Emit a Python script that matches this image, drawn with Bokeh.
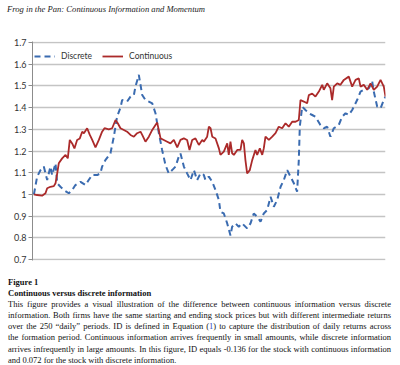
from bokeh.plotting import figure
from bokeh.models import (Range1d, FixedTicker, CustomJSTickFormatter, Legend,
                          LegendItem, Div)
from bokeh.layouts import column
from bokeh.embed import file_html
from bokeh.resources import INLINE

# ---------------- data ----------------
series_names = ["Discrete", "Continuous"]

cont_x = [1, 3.3, 6.8, 9.2, 10.4, 12.7, 15.1, 16.3, 17.5, 18.6, 21, 23.4, 25, 26.4,
          28.1, 29.7, 31.6, 33.5, 35.2, 36.4, 38.7, 40.6, 42.3, 44.6, 47, 49.3, 51,
          54, 56.4, 58.8, 60.4, 62.3, 64.7, 67, 69.4, 71.8, 74.1, 76.5, 77.7, 80,
          82.4, 84.8, 87.1, 88.3, 90.7, 93, 95.4, 97.7, 100.1, 102.5, 104.8, 107.2,
          109.5, 111.2, 113.1, 115.4, 117.8, 120.2, 121.3, 123.7, 124.9, 126.1,
          127.3, 129.6, 132, 133.1, 135.5, 137.9, 139, 140.2, 141.4, 142.6, 145,
          147.3, 148.5, 149.7, 150.8, 152, 153.9, 155.6, 157.9, 159.1, 161, 162.7,
          163.8, 165, 167.4, 169.8, 172.1, 174.4, 176.8, 179.2, 181.5, 183.9, 186.3,
          188.6, 189.8, 192.1, 194.5, 195.7, 198.1, 200.4, 202.8, 205.2, 206.3,
          208.7, 211, 212.2, 213.4, 215.8, 218.1, 220.5, 224, 226.4, 228.8, 231.1,
          232.3, 234.6, 237, 239.4, 241.7, 244.1, 246.5, 248.8, 250]
cont_y = [1.0, 0.997, 0.994, 1.005, 1.028, 1.035, 1.038, 1.051, 1.097, 1.143, 1.166,
          1.182, 1.166, 1.251, 1.235, 1.212, 1.251, 1.258, 1.289, 1.282, 1.305, 1.274,
          1.251, 1.217, 1.251, 1.289, 1.305, 1.3, 1.305, 1.343, 1.328, 1.305, 1.297,
          1.289, 1.274, 1.266, 1.282, 1.289, 1.274, 1.243, 1.266, 1.297, 1.32, 1.331,
          1.258, 1.251, 1.243, 1.235, 1.251, 1.217, 1.251, 1.258, 1.251, 1.205, 1.251,
          1.258, 1.228, 1.251, 1.243, 1.266, 1.312, 1.305, 1.266, 1.258, 1.212, 1.182,
          1.197, 1.235, 1.182, 1.243, 1.189, 1.182, 1.205, 1.205, 1.251, 1.235, 1.158,
          1.097, 1.112, 1.158, 1.205, 1.182, 1.212, 1.182, 1.212, 1.266, 1.251, 1.266,
          1.282, 1.312, 1.305, 1.328, 1.312, 1.335, 1.335, 1.343, 1.435, 1.428, 1.42,
          1.458, 1.465, 1.451, 1.474, 1.505, 1.482, 1.512, 1.489, 1.435, 1.497, 1.512,
          1.505, 1.528, 1.543, 1.497, 1.528, 1.535, 1.497, 1.505, 1.482, 1.512, 1.482,
          1.497, 1.528, 1.497, 1.451]

disc_x = [1, 3.3, 5.7, 8, 10.4, 12.7, 13.9, 16.3, 17.5, 19.8, 22.2, 25.7, 28.1, 30.4,
          34, 37.5, 39.8, 42.2, 45.8, 48.1, 49.3, 51.6, 55.2, 57.6, 59.9, 62.3, 63.5,
          67, 69.4, 71.8, 72.9, 75.3, 77.7, 80, 82.4, 84.8, 87.1, 89.5, 91.8, 94.2,
          96.5, 98.9, 101.3, 103.6, 104.8, 107.2, 109.5, 111.9, 114.3, 116.6, 119,
          121.3, 122.5, 124.9, 127.3, 129.6, 132, 133.1, 135.5, 137.9, 140.2, 141.4,
          143.8, 146.1, 148.5, 152, 154.4, 156.7, 159.1, 161.5, 163.8, 166.2, 168.6,
          170.9, 173.3, 175.7, 178, 180.4, 182.7, 185.1, 187.4, 188.6, 189.3, 191,
          193.3, 195.7, 198.1, 200.4, 203.9, 206.3, 208.7, 211, 213.4, 216.9, 219.3,
          221.7, 224, 226.4, 229.9, 232.3, 234.6, 238.2, 240.6, 241.7, 244.1, 246.5,
          248.8, 250]
disc_y = [1.0, 1.082, 1.112, 1.128, 1.066, 1.128, 1.089, 1.143, 1.051, 1.035, 1.02,
          1.005, 1.02, 1.043, 1.058, 1.043, 1.066, 1.089, 1.089, 1.097, 1.128, 1.158,
          1.189, 1.266, 1.358, 1.40, 1.435, 1.428, 1.451, 1.458, 1.497, 1.551, 1.458,
          1.435, 1.428, 1.42, 1.374, 1.282, 1.205, 1.135, 1.097, 1.112, 1.128, 1.174,
          1.189, 1.128, 1.097, 1.066, 1.112, 1.066, 1.097, 1.09, 1.066, 1.082, 1.058,
          1.02, 0.974, 0.92, 0.912, 0.866, 0.81, 0.851, 0.866, 0.851, 0.866, 0.843,
          0.866, 0.912, 0.897, 0.874, 0.912, 0.928, 0.989, 0.943, 0.974, 1.035, 1.066,
          1.112, 1.082, 1.051, 1.012, 1.158, 1.312, 1.405, 1.389, 1.374, 1.366, 1.358,
          1.32, 1.305, 1.312, 1.266, 1.305, 1.32, 1.358, 1.374, 1.366, 1.389, 1.435,
          1.474, 1.482, 1.489, 1.52, 1.474, 1.405, 1.397, 1.435, 1.451]

y_ticks = [0.7, 0.8, 0.9, 1.0, 1.1, 1.2, 1.3, 1.4, 1.5, 1.6, 1.7]

page_title = "Frog in the Pan: Continuous Information and Momentum"
fig_label = "Figure 1"
fig_heading = "Continuous versus discrete information"
caption_lines = [
    "This figure provides a visual illustration of the difference between continuous information versus discrete",
    "information. Both firms have the same starting and ending stock prices but with different intermediate returns",
    "over the 250 \u201cdaily\u201d periods. ID is defined in Equation (<span style=\"color:#2a3fc0\">1</span>) to capture the distribution of daily returns across",
    "the formation period. Continuous information arrives frequently in small amounts, while discrete information",
    "arrives infrequently in large amounts. In this figure, ID equals -0.136 for the stock with continuous information",
]
caption_last = "and 0.072 for the stock with discrete information."

BLUE = "#3a6bb0"
RED = "#ab2a2a"

# ---------------- figure ----------------
p = figure(width=400, height=257, output_backend="svg", toolbar_location=None,
           x_range=Range1d(0, 250), y_range=Range1d(0.695, 1.705),
           min_border_left=32, min_border_right=15, min_border_top=21,
           min_border_bottom=17)
p.outline_line_color = None
p.background_fill_color = "white"
p.border_fill_color = "white"

p.xaxis.visible = False
p.xgrid.visible = False

p.yaxis.ticker = FixedTicker(ticks=y_ticks)
p.yaxis.formatter = CustomJSTickFormatter(code="return (Math.round(tick*10)/10).toString();")
p.yaxis.axis_line_color = "#8c8c8c"
p.yaxis.major_tick_line_color = "#8c8c8c"
p.yaxis.major_tick_out = 4
p.yaxis.major_tick_in = 0
p.yaxis.minor_tick_out = 0
p.yaxis.minor_tick_in = 0
p.yaxis.major_label_standoff = 2
p.yaxis.major_label_text_font = "Lato"
p.yaxis.major_label_text_font_size = "9px"
p.yaxis.major_label_text_color = "#333333"

p.ygrid.grid_line_color = "#c4c4c4"
p.ygrid.grid_line_width = 1.5

r_d = p.line(disc_x, disc_y, line_color=BLUE, line_width=2, line_dash="6 4")
r_c = p.line(cont_x, cont_y, line_color=RED, line_width=1.8)

legend = Legend(items=[LegendItem(label=series_names[0], renderers=[r_d]),
                       LegendItem(label=series_names[1], renderers=[r_c])],
                orientation="horizontal", location="top_left",
                border_line_color=None, background_fill_alpha=0,
                label_text_font="Lato", label_text_font_size="8.5px",
                label_text_color="#333333",
                glyph_width=21, glyph_height=26, spacing=10, margin=2,
                padding=4, label_standoff=6)
p.add_layout(legend)

# ---------------- texts ----------------
title_div = Div(
    text=('<div style="position:relative; top:0px; left:7px; '
          'font-family:\'Liberation Serif\'; font-style:italic; font-size:8.6px; '
          'white-space:nowrap; color:#222;">' + page_title + '</div>'),
    width=400, height=20, margin=(0, 0, 0, 0))

body = ''.join(
    '<div style="text-align:justify; text-align-last:justify;">'
    + line + '</div>' for line in caption_lines)
caption_html = (
    '<div style="font-family:\'Liberation Serif\'; font-size:8.5px; line-height:11.1px; '
    'color:#111; width:383px; margin-left:8px;">'
    '<div style="font-weight:bold;">' + fig_label + '</div>'
    '<div style="font-weight:bold;">' + fig_heading + '</div>'
    + body +
    '<div>' + caption_last + '</div>'
    '</div>')
caption_div = Div(text=caption_html, width=400, height=88, margin=(0, 0, 0, 0))

layout = column(title_div, p, caption_div, spacing=0)

open("out.html", "w").write(file_html(layout, INLINE))
